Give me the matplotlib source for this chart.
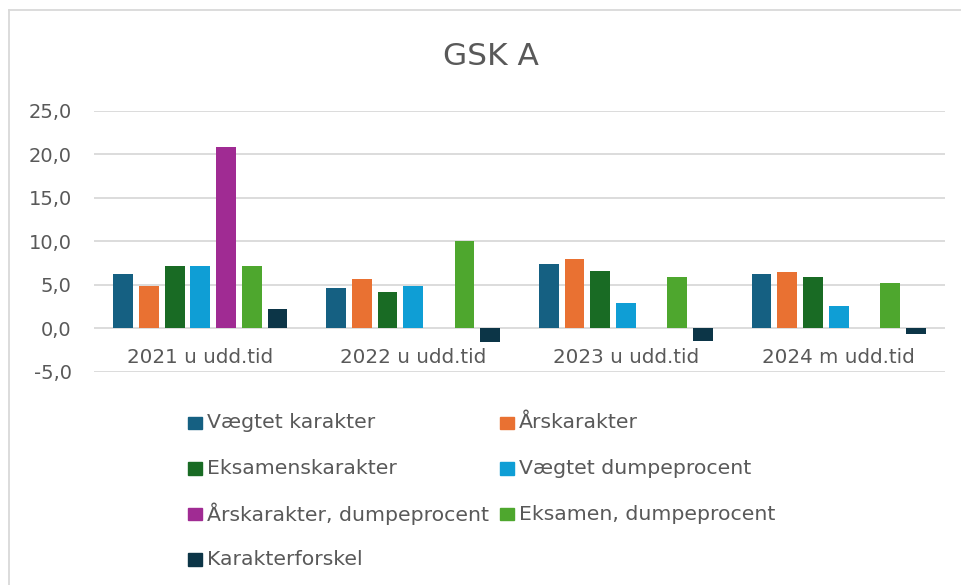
import matplotlib
matplotlib.use("Agg")
import matplotlib.pyplot as plt
from matplotlib.patches import Rectangle
from matplotlib.lines import Line2D
import numpy as np

plt.rcParams['font.family'] = ['DejaVu Sans']

# data
categories = ["2021 u udd.tid", "2022 u udd.tid", "2023 u udd.tid", "2024 m udd.tid"]
series_names = ["Vægtet karakter", "Årskarakter", "Eksamenskarakter",
                "Vægtet dumpeprocent", "Årskarakter, dumpeprocent",
                "Eksamen, dumpeprocent", "Karakterforskel"]
vaegtet_karakter = [6.2, 4.6, 7.4, 6.2]
aarskarakter = [4.9, 5.6, 8.0, 6.5]
eksamenskarakter = [7.1, 4.2, 6.6, 5.9]
vaegtet_dumpeprocent = [7.1, 4.9, 2.9, 2.6]
aarskarakter_dumpeprocent = [20.8, 0.0, 0.0, 0.0]
eksamen_dumpeprocent = [7.1, 10.0, 5.9, 5.2]
karakterforskel = [2.2, -1.6, -1.5, -0.7]
yticks = [-5, 0, 5, 10, 15, 20, 25]

values = [vaegtet_karakter, aarskarakter, eksamenskarakter, vaegtet_dumpeprocent,
          aarskarakter_dumpeprocent, eksamen_dumpeprocent, karakterforskel]
colors = ["#156082", "#E97132", "#196B24", "#0F9ED5", "#A02B93", "#4EA72E", "#0C3547"]
text_col = "#595959"
grid_col = "#D9D9D9"

fig = plt.figure(figsize=(9.61, 5.85), dpi=100)
ax = fig.add_axes([0.0978, 0.3646, 0.8856, 0.4462])

x = np.arange(len(categories))
slot = 0.1208
bw = 0.093
n = len(values)
for i in range(n):
    pos = x + (i - (n - 1) / 2) * slot
    ax.bar(pos, values[i], width=bw, color=colors[i], zorder=3)

ax.set_xlim(-0.5, len(categories) - 0.5)
ax.set_ylim(-5, 25)
ax.set_yticks(yticks)
ax.set_yticklabels([f"{v:.1f}".replace(".", ",") for v in yticks])
ax.yaxis.grid(True, color=grid_col, linewidth=1.3, zorder=0)
ax.set_xticks([])
ax.tick_params(axis="y", length=0, pad=16, labelsize=14, labelcolor=text_col)
for s in ax.spines.values():
    s.set_visible(False)

for i, c in enumerate(categories):
    ax.text(x[i], -3.35, c, ha="center", va="center", fontsize=14.3, color=text_col)

fig.text(0.511, 0.903, "GSK A", ha="center", va="center", fontsize=22.5, color=text_col)

# legend laid out as in the reference, two columns filled row by row
col_x = [0.1956, 0.5203]
row_y = [1 - 423 / 585, 1 - 468.5 / 585, 1 - 514 / 585, 1 - 559.5 / 585]
for i, name in enumerate(series_names):
    cx = col_x[i % 2]
    cy = row_y[i // 2]
    fig.patches.append(Rectangle((cx, cy - 0.0111), 0.0143, 0.0222,
                                 transform=fig.transFigure, color=colors[i]))
    fig.text(cx + 0.0195, cy, name, ha="left", va="center", fontsize=14.7, color=text_col)

# chart frame
fig.lines.append(Line2D([0.0094, 0.0094], [0.0, 0.983], transform=fig.transFigure,
                        color=grid_col, linewidth=1.3))
fig.lines.append(Line2D([0.0094, 1.0], [0.983, 0.983], transform=fig.transFigure,
                        color=grid_col, linewidth=1.3))

fig.savefig("out.png", dpi=100, facecolor="white")
